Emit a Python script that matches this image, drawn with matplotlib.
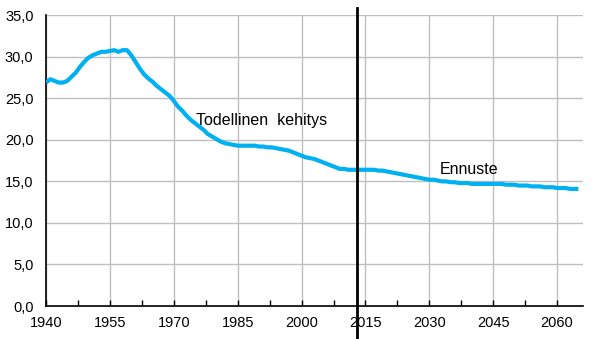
import matplotlib
matplotlib.use("Agg")
import matplotlib.pyplot as plt
from matplotlib.ticker import FixedLocator, MultipleLocator, FuncFormatter

plt.rcParams['font.family'] = ['Liberation Sans', 'DejaVu Sans']

# vuodet ja arvot (luettu kuvasta)
vuodet = list(range(1940, 2066))
arvot = [
    26.9, 27.3, 27.1, 26.9, 26.9, 27.1, 27.6, 28.1, 28.8, 29.4,   # 1940-1949
    29.9, 30.2, 30.4, 30.6, 30.6, 30.7, 30.8, 30.6, 30.8, 30.8,   # 1950-1959
    30.2, 29.4, 28.6, 27.9, 27.4, 27.0, 26.5, 26.1, 25.7, 25.3,   # 1960-1969
    24.7, 24.0, 23.5, 22.9, 22.4, 22.0, 21.6, 21.2, 20.7, 20.4,   # 1970-1979
    20.1, 19.8, 19.6, 19.5, 19.4, 19.3, 19.3, 19.3, 19.3, 19.3,   # 1980-1989
    19.2, 19.2, 19.1, 19.1, 19.0, 18.9, 18.8, 18.7, 18.5, 18.3,   # 1990-1999
    18.1, 17.9, 17.8, 17.7, 17.5, 17.3, 17.1, 16.9, 16.7, 16.5,   # 2000-2009
    16.5, 16.4, 16.4, 16.4, 16.4, 16.4, 16.4, 16.4, 16.3, 16.3,   # 2010-2019
    16.2, 16.1, 16.0, 15.9, 15.8, 15.7, 15.6, 15.5, 15.4, 15.3,   # 2020-2029
    15.2, 15.2, 15.1, 15.0, 15.0, 14.9, 14.9, 14.8, 14.8, 14.8,   # 2030-2039
    14.7, 14.7, 14.7, 14.7, 14.7, 14.7, 14.7, 14.7, 14.6, 14.6,   # 2040-2049
    14.6, 14.5, 14.5, 14.5, 14.4, 14.4, 14.4, 14.3, 14.3, 14.3,   # 2050-2059
    14.2, 14.2, 14.2, 14.1, 14.1, 14.1,                           # 2060-2065
]
x_tikit = [1940, 1955, 1970, 1985, 2000, 2015, 2030, 2045, 2060]
raja_vuosi = 2013
tekstit = ["Todellinen  kehitys", "Ennuste"]

fig = plt.figure(figsize=(6.1, 3.39), dpi=100)
ax = fig.add_axes([0.0754, 0.0973, 0.8798, 0.8577])

ax.plot(vuodet, arvot, color="#00B0F0", linewidth=3, solid_capstyle="butt", zorder=3)
ax.plot([raja_vuosi, raja_vuosi], [-4.0, 35.9], color="black", linewidth=2, clip_on=False, zorder=4)

ax.text(1975.2, 22.3, tekstit[0], fontsize=11.5, va="center", ha="left")
ax.text(2032.4, 16.4, tekstit[1], fontsize=11.5, va="center", ha="left")

ax.set_xlim(1940, 2066)
ax.set_ylim(0, 35)
ax.xaxis.set_major_locator(FixedLocator(x_tikit))
ax.xaxis.set_minor_locator(FixedLocator([t + 7.5 for t in x_tikit]))
ax.yaxis.set_major_locator(MultipleLocator(5))
ax.yaxis.set_major_formatter(FuncFormatter(lambda v, p: ("%.1f" % v).replace(".", ",")))

ax.grid(True, color="#BFBFBF", linewidth=1)
ax.set_axisbelow(True)
for s in ["top", "right"]:
    ax.spines[s].set_visible(False)
ax.spines["left"].set_linewidth(1.2)
ax.spines["bottom"].set_linewidth(1.2)

ax.tick_params(axis="x", which="both", direction="in", length=4, width=1, labelsize=10.5, pad=7)
ax.tick_params(axis="y", length=0, labelsize=10.5, pad=9)

plt.savefig("out.png", dpi=100)
